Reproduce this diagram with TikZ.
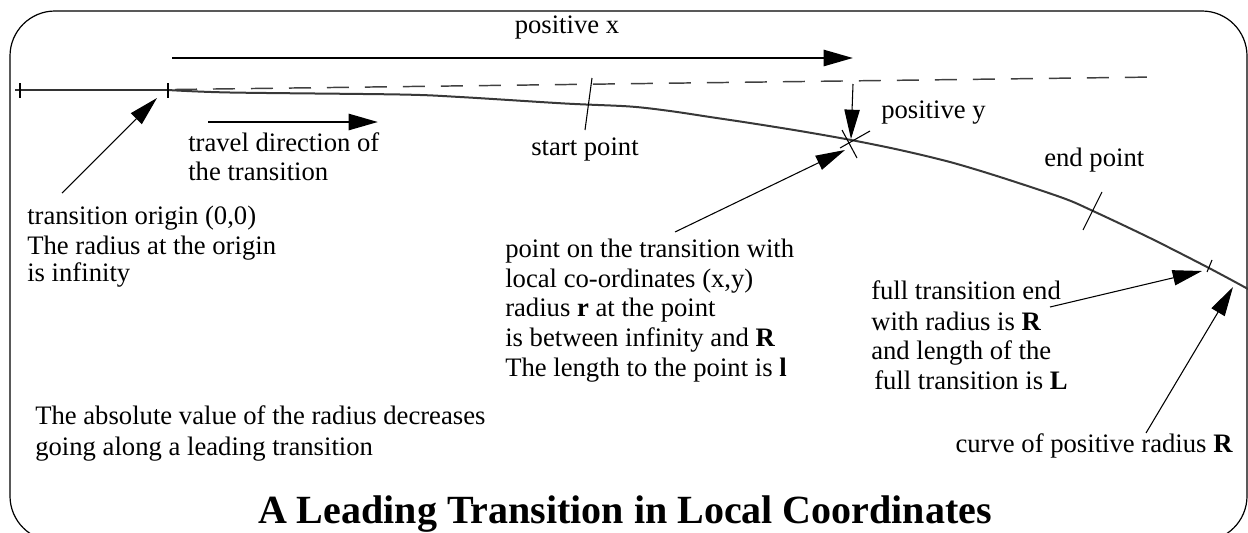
\documentclass[tikz,border=0pt]{standalone}
\usepackage{fontspec}
\setmainfont{Liberation Serif}
\usetikzlibrary{arrows.meta}
\begin{document}
\begin{tikzpicture}[x=0.75pt,y=-0.75pt,
  txt/.style={inner sep=0pt, font=\fontsize{20}{22.5}\selectfont},
  titletxt/.style={inner sep=0pt, font=\fontsize{30}{36}\selectfont\bfseries},
  thinarrow/.style={line width=0.8pt, -{Triangle[length=22pt,width=11.5pt]}},
  thickarrow/.style={line width=2pt, -{Triangle[length=22pt,width=12pt]}},
  tickmark/.style={line width=0.8pt},
  curveline/.style={line width=1.5pt, black!78, line join=round},
  axisline/.style={line width=1.1pt, black!75, dash pattern=on 16.5pt off 12pt},
  frame/.style={line width=0.9pt, rounded corners=33.75pt}
  ]
\useasboundingbox (0,0) rectangle (1248,532);
\begin{scope}
\clip (0,0) rectangle (1248,532);
\draw[frame] (10,11) rectangle (1247,541);
% transition curve
\draw[curveline] plot[smooth, tension=0.5] coordinates {(168,90) (230,92.5) (400,94.5) (460,97) (565,103.5) (630,106.5) (670,111) (710,117) (750,123) (800,131) (851,140) (900,150) (950,162) (1000,177) (1063,198) (1093,211) (1150,238) (1207,267) (1248,289) (1265,299)};
\end{scope}
% named points
\coordinate (far) at (15,90);
\coordinate (orig) at (168,90);
\coordinate (dashA) at (175,89.5);
\coordinate (dashB) at (1156,77);
\coordinate (pt) at (851,140);
\coordinate (fullend) at (1209,266);
% incoming axis and ticks
\draw[line width=1.4pt, black!80] (far) -- (orig);
\draw[tickmark] (20,83) -- (20,98);
\draw[tickmark] (168,83) -- (168,98);
\draw[axisline] (dashA) -- (dashB);
% start/end/full-end ticks
\draw[tickmark] (592,78) -- (585,130);
\draw[tickmark] (1102,192) -- (1083,230);
\draw[tickmark] (1212,260) -- (1207,272);
% point cross
\draw[tickmark] (840,148) -- (870,131);
\draw[tickmark] (842,130) -- (857,158);
% arrows
\coordinate (pxA) at (172,58);
\coordinate (pxB) at (853,58);
\draw[thickarrow] (pxA) -- (pxB);
\coordinate (trA) at (208,122);
\coordinate (trB) at (378,122);
\draw[thickarrow] (trA) -- (trB);
\coordinate (orA) at (62,193);
\coordinate (orB) at (157,98);
\draw[thinarrow] (orA) -- (orB);
\coordinate (pyA) at (853,84);
\coordinate (pyB) at (851,139);
\draw[thinarrow] (pyA) -- (pyB);
\coordinate (ptA) at (675,232);
\coordinate (ptB) at (845,150);
\draw[thinarrow] (ptA) -- (ptB);
\coordinate (feA) at (1050,307);
\coordinate (feB) at (1202,271);
\draw[thinarrow] (feA) -- (feB);
\coordinate (cvA) at (1146,433);
\coordinate (cvB) at (1233,287);
\draw[thinarrow] (cvA) -- (cvB);
% texts
\node[txt, anchor=base] (lpx) at (567,33) {positive x};
\node[txt, anchor=base west] (ltr1) at (188,151) {travel direction of};
\node[txt, anchor=base west] (ltr2) at (188,180) {the transition};
\node[txt, anchor=base] (lsp) at (585,155) {start point};
\node[txt, anchor=base west] (lpy) at (881,118) {positive y};
\node[txt, anchor=base west] (lep) at (1044,166) {end point};
\node[txt, anchor=base west] (lo1) at (27,224) {transition origin (0,0)};
\node[txt, anchor=base west] (lo2) at (27,254) {The radius at the origin};
\node[txt, anchor=base west] (lo3) at (27,281) {is infinity};
\node[txt, anchor=base west] (lp1) at (505,257) {point on the transition with};
\node[txt, anchor=base west] (lp2) at (505,287) {local co-ordinates (x,y)};
\node[txt, anchor=base west] (lp3) at (505,316) {radius \textbf{r} at the point};
\node[txt, anchor=base west] (lp4) at (505,346) {is between infinity and \textbf{R}};
\node[txt, anchor=base west] (lp5) at (505,376) {The length to the point is \textbf{l}};
\node[txt, anchor=base west] (lf1) at (871,299) {full transition end};
\node[txt, anchor=base west] (lf2) at (871,330) {with radius is \textbf{R}};
\node[txt, anchor=base west] (lf3) at (871,359) {and length of the};
\node[txt, anchor=base west] (lf4) at (874,389) {full transition is \textbf{L}};
\node[txt, anchor=base west] (la1) at (35,424) {The absolute value of the radius decreases};
\node[txt, anchor=base west] (la2) at (35,455) {going along a leading transition};
\node[txt, anchor=base east] (lcv) at (1233,452) {curve of positive radius \textbf{R}};
\node[titletxt, anchor=base] (title) at (625,523) {A Leading Transition in Local Coordinates};
\end{tikzpicture}
\end{document}
